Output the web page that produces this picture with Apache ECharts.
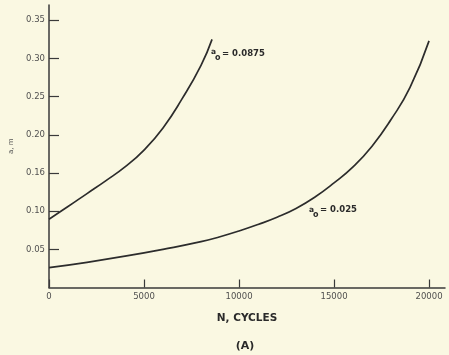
<!DOCTYPE html>
<html>
<head>
<meta charset="utf-8">
<script src="https://cdn.jsdelivr.net/npm/echarts@6/dist/echarts.min.js"></script>
<style>
html,body{margin:0;padding:0;background:#faf8e2;}
#c{width:449px;height:355px;}
</style>
</head>
<body>
<div id="c"></div>
<script>
// Data
var upperN = [0, 1000, 2000, 3000, 4000, 5000, 6000, 7000, 8000, 8580];
var upperA = [0.0895, 0.106, 0.123, 0.140, 0.158, 0.180, 0.209, 0.247, 0.291, 0.325];
var lowerN = [0, 2000, 4000, 6000, 8000, 9000, 10000, 11000, 12000, 13000, 14000, 15000, 16000, 17000, 18000, 19000, 20000];
var lowerA = [0.026, 0.033, 0.041, 0.050, 0.060, 0.0665, 0.074, 0.0825, 0.092, 0.1035, 0.1185, 0.137, 0.158, 0.185, 0.220, 0.262, 0.323];
var xTicks = [0, 5000, 10000, 15000, 20000];
var xTickLabels = ['0', '5000', '10000', '15000', '20000'];
var yTicks = [0.05, 0.10, 0.15, 0.20, 0.25, 0.30, 0.35];
var yTickLabels = ['0.05', '0.10', '0.16', '0.20', '0.25', '0.30', '0.35'];
var upperLabel = '= 0.0875';
var lowerLabel = '= 0.025';

function pairs(xs, ys) { return xs.map(function (x, i) { return [x, ys[i]]; }); }

var chart = echarts.init(document.getElementById('c'), null, {renderer: 'canvas'});
var axisColor = '#3a3a3a';
var labelFont = {fontFamily: 'DejaVu Sans', fontSize: 8.5, color: '#505050'};

chart.setOption({
  backgroundColor: '#faf8e2',
  animation: false,
  grid: {left: 49, right: 4, top: 5, bottom: 67.5},
  title: {
    text: '(A)', left: 240, top: 336, textAlign: 'center',
    textStyle: {fontFamily: 'DejaVu Sans', fontWeight: 'bold', fontSize: 11, color: '#2a2a2a'}
  },
  xAxis: {
    type: 'value', min: 0, max: 20840,
    name: 'N, CYCLES', nameLocation: 'middle', nameGap: 25,
    nameTextStyle: {fontFamily: 'DejaVu Sans', fontWeight: 'bold', fontSize: 10.5, color: '#2a2a2a'},
    axisLine: {show: true, lineStyle: {color: axisColor, width: 1.5}},
    axisTick: {show: true, inside: true, length: 8, customValues: xTicks, lineStyle: {color: axisColor, width: 1.2}},
    axisLabel: {show: true, customValues: xTicks, margin: 5,
      formatter: function (v) { var i = xTicks.indexOf(v); return i >= 0 ? xTickLabels[i] : ''; },
      fontFamily: labelFont.fontFamily, fontSize: labelFont.fontSize, color: labelFont.color},
    splitLine: {show: false}
  },
  yAxis: {
    type: 'value', min: 0, max: 0.37,
    name: 'a, m', nameLocation: 'middle', nameGap: 33, nameRotate: 90,
    nameTextStyle: {fontFamily: 'DejaVu Sans', fontSize: 7, color: '#555'},
    axisLine: {show: true, lineStyle: {color: axisColor, width: 1.5}},
    axisTick: {show: true, inside: true, length: 10, customValues: yTicks, lineStyle: {color: axisColor, width: 1.2}},
    axisLabel: {show: true, customValues: yTicks, margin: 4,
      formatter: function (v) {
        for (var i = 0; i < yTicks.length; i++) { if (Math.abs(yTicks[i] - v) < 1e-9) return yTickLabels[i]; }
        return '';
      },
      fontFamily: labelFont.fontFamily, fontSize: labelFont.fontSize, color: labelFont.color},
    splitLine: {show: false}
  },
  series: [
    {type: 'line', data: pairs(upperN, upperA), smooth: 0.5, showSymbol: false,
      lineStyle: {color: '#2c2c2c', width: 1.7}},
    {type: 'line', data: pairs(lowerN, lowerA), smooth: 0.5, showSymbol: false,
      lineStyle: {color: '#2c2c2c', width: 1.7}}
  ],
  graphic: [
    {type: 'text', left: 211, top: 48, style: {text: 'a', font: 'bold 7.5px DejaVu Sans', fill: '#2a2a2a'}},
    {type: 'text', left: 215, top: 54, style: {text: 'o', font: 'bold 8px DejaVu Sans', fill: '#2a2a2a'}},
    {type: 'text', left: 222, top: 49, style: {text: upperLabel, font: 'bold 8.5px DejaVu Sans', fill: '#2a2a2a'}},
    {type: 'text', left: 309, top: 206, style: {text: 'a', font: 'bold 7.5px DejaVu Sans', fill: '#2a2a2a'}},
    {type: 'text', left: 313, top: 211, style: {text: 'o', font: 'bold 8px DejaVu Sans', fill: '#2a2a2a'}},
    {type: 'text', left: 320, top: 205, style: {text: lowerLabel, font: 'bold 8.5px DejaVu Sans', fill: '#2a2a2a'}}
  ]
});
</script>
</body>
</html>
